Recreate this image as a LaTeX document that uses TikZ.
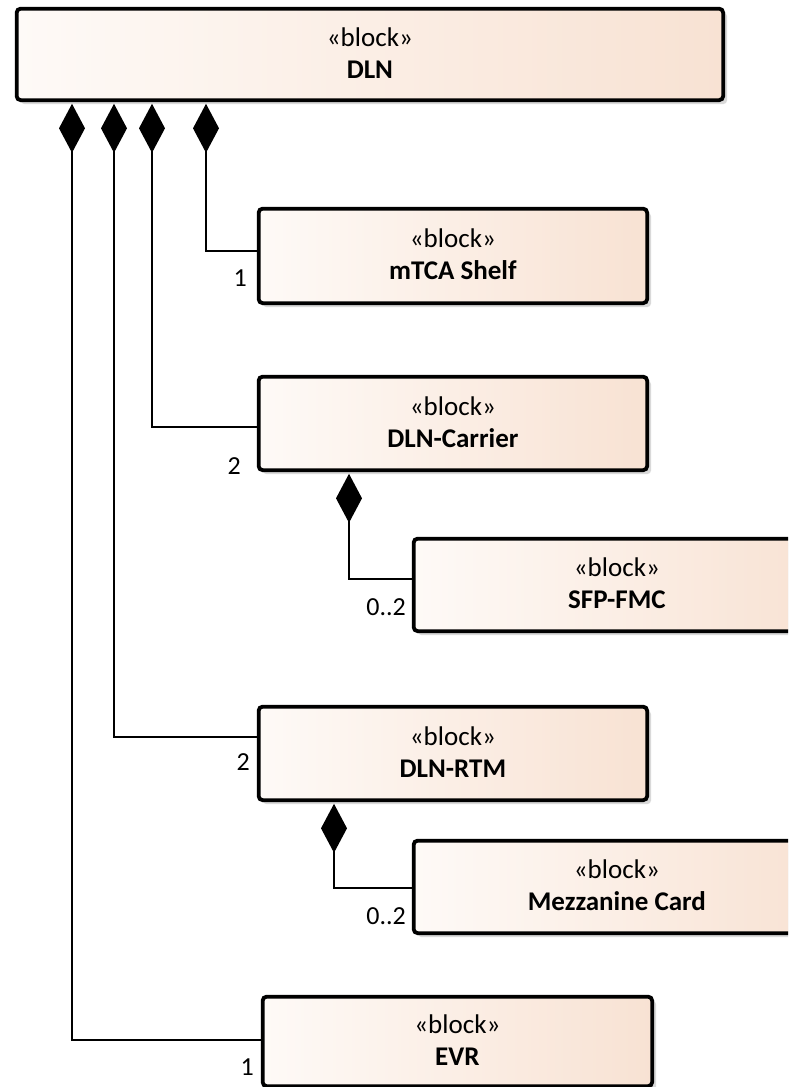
\documentclass[tikz,border=0pt]{standalone}
\usepackage{fontspec}
\setmainfont{Carlito}
\usetikzlibrary{arrows.meta,calc,shadows}
\definecolor{boxL}{HTML}{FEFAF7}
\definecolor{boxR}{HTML}{F8E2D3}
\definecolor{shadowgray}{HTML}{D9D9D9}
\begin{document}
\begin{tikzpicture}[x=1pt,y=-1pt,
  block/.style={draw=black, line width=3.8pt, rounded corners=4pt,
    left color=boxL, right color=boxR, anchor=north west, inner sep=0pt,
    align=center, font=\fontsize{27}{32}\selectfont,
    drop shadow={shadow xshift=4pt, shadow yshift=-4pt, fill=shadowgray, opacity=1}},
  comp/.style={line width=1.8pt, {Diamond[length=49pt,width=26pt]}-},
  mult/.style={font=\fontsize{26}{30}\selectfont, anchor=base east, inner sep=0pt}]
\clip (0,0) rectangle (788,1087);
\fill[white] (0,0) rectangle (788,1087);

\node[block, minimum width=706.5pt, minimum height=91.5pt] (dln) at (14.75,6.75)
  {\rule{0pt}{18pt}«block»\\\textbf{DLN}\rule[-3pt]{0pt}{3pt}};
\node[block, minimum width=388.5pt, minimum height=94.5pt] (mtca) at (256.75,206.75)
  {\rule{0pt}{18pt}«block»\\\textbf{mTCA Shelf}\rule[-3pt]{0pt}{3pt}};
\node[block, minimum width=388.5pt, minimum height=93.5pt] (carrier) at (256.75,374.75)
  {\rule{0pt}{18pt}«block»\\\textbf{DLN-Carrier}\rule[-3pt]{0pt}{3pt}};
\node[block, minimum width=406.5pt, minimum height=92.5pt] (sfp) at (411.75,536.75)
  {\rule{0pt}{18pt}«block»\\\textbf{SFP-FMC}\rule[-3pt]{0pt}{3pt}};
\node[block, minimum width=388.5pt, minimum height=93.5pt] (rtm) at (256.75,704.75)
  {\rule{0pt}{18pt}«block»\\\textbf{DLN-RTM}\rule[-3pt]{0pt}{3pt}};
\node[block, minimum width=406.5pt, minimum height=92.5pt] (mezz) at (411.75,838.75)
  {\rule{0pt}{18pt}«block»\\\textbf{Mezzanine Card}\rule[-3pt]{0pt}{3pt}};
\node[block, minimum width=389.5pt, minimum height=89.5pt] (evr) at (260.75,994.75)
  {\rule{0pt}{18pt}«block»\\\textbf{EVR}\rule[-3pt]{0pt}{3pt}};

\draw[comp] ($(dln.south west)+(191.25,1.75)$) |- ([yshift=5pt]mtca.west);
\draw[comp] ($(dln.south west)+(137.25,1.75)$) |- ([yshift=-3.5pt]carrier.west);
\draw[comp] ($(dln.south west)+(99.25,1.75)$) |- ([yshift=16.5pt]rtm.west);
\draw[comp] ($(dln.south west)+(57.25,1.75)$) |- ([yshift=1.5pt]evr.west);
\draw[comp] ($(carrier.south west)+(92.25,1.75)$) |- ([yshift=6pt]sfp.west);
\draw[comp] ($(rtm.south west)+(77.25,1.75)$) |- ([yshift=-1pt]mezz.west);

\node[mult] (m1) at (247,286) {1};
\node[mult] (m2) at (241,474) {2};
\node[mult] (m3) at (406,615) {0..2};
\node[mult] (m4) at (250,770) {2};
\node[mult] (m5) at (406,924) {0..2};
\node[mult] (m6) at (254,1075) {1};
\end{tikzpicture}
\end{document}
